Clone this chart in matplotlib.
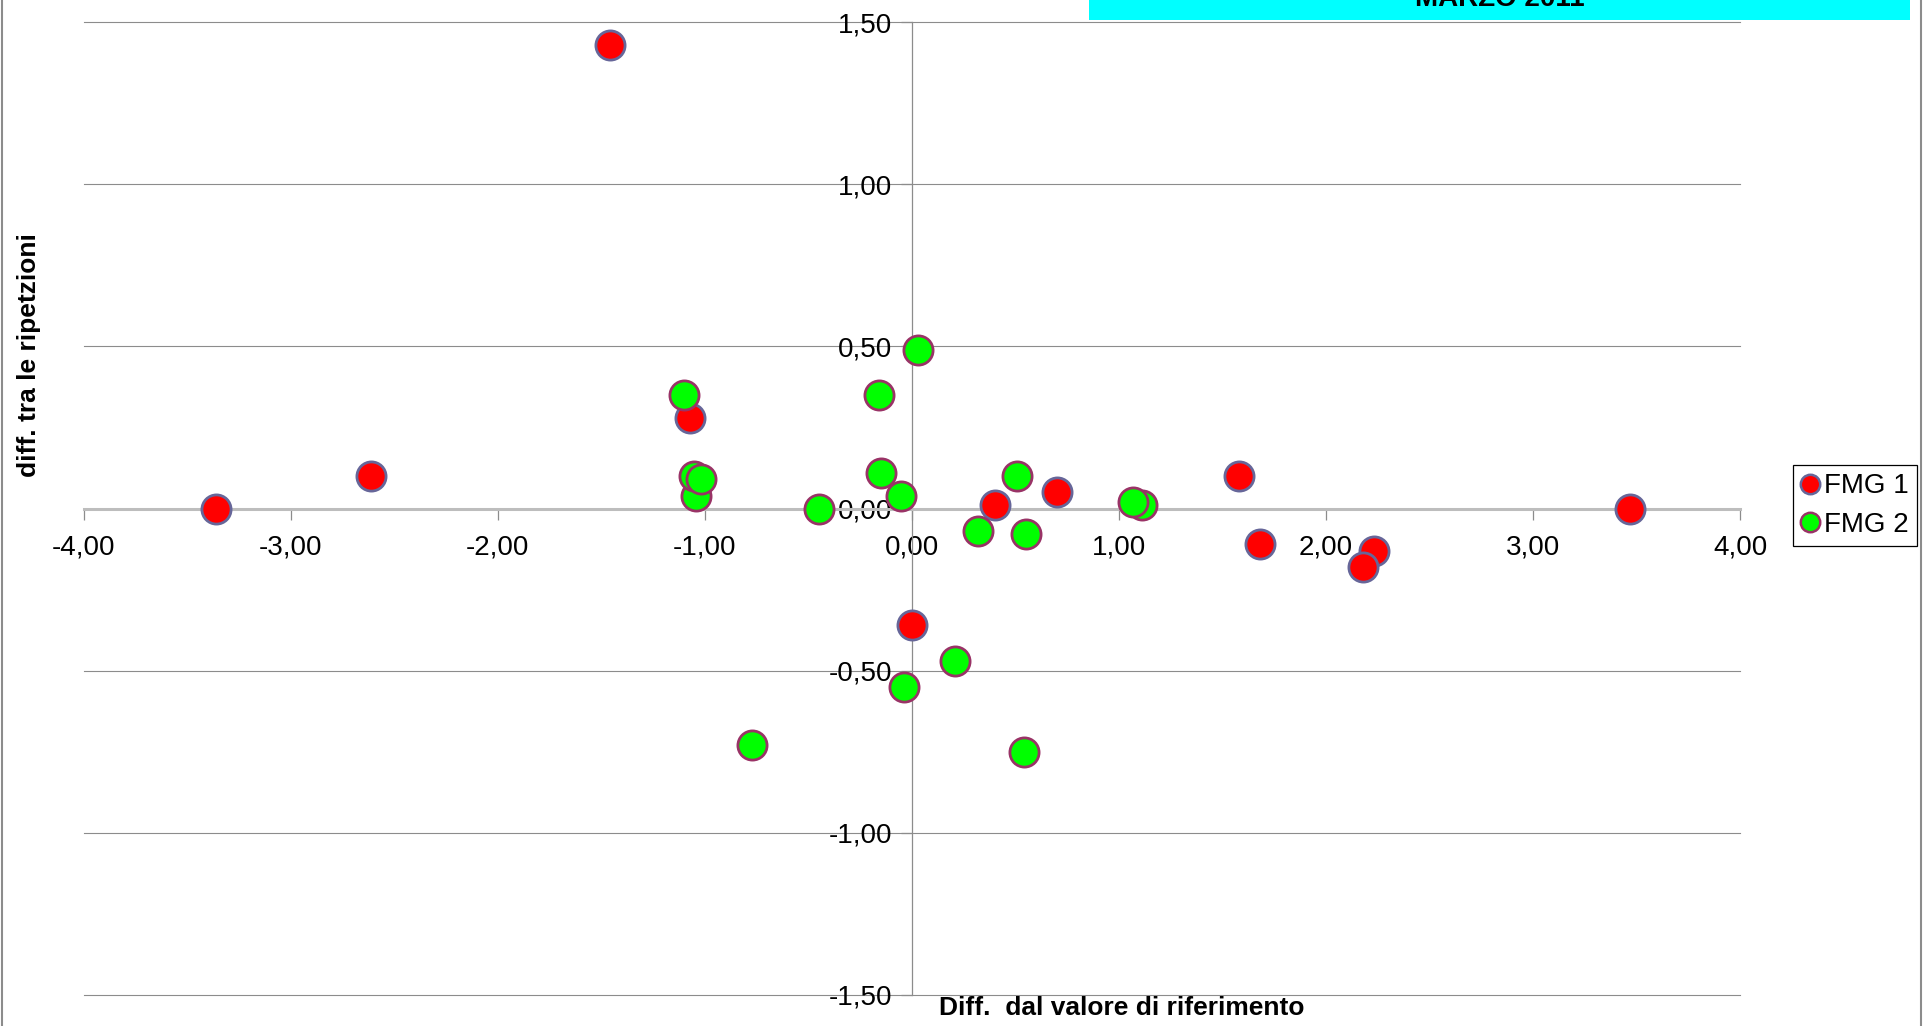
import matplotlib
matplotlib.use("Agg")
import matplotlib.pyplot as plt
from matplotlib.lines import Line2D
from matplotlib.patches import Rectangle
from matplotlib.ticker import FuncFormatter, MultipleLocator

plt.rcParams["font.family"] = ["Liberation Sans", "DejaVu Sans"]

# FMG 1 (red)
fmg1_x = [-1.46, -3.36, -2.61, -1.07, 0.00, 0.40, 0.70, 1.58, 1.68, 2.23, 2.18, 3.47]
fmg1_y = [1.43, 0.00, 0.10, 0.28, -0.36, 0.01, 0.05, 0.10, -0.11, -0.13, -0.18, 0.00]

# FMG 2 (green)
fmg2_x = [-1.10, -1.04, -1.05, -1.02, -0.45, -0.77, -0.04, 0.21, 0.54,
          0.03, -0.16, -0.15, -0.05, 0.51, 0.32, 0.55, 1.11, 1.07]
fmg2_y = [0.35, 0.04, 0.10, 0.09, 0.00, -0.73, -0.55, -0.47, -0.75,
          0.49, 0.35, 0.11, 0.04, 0.10, -0.07, -0.08, 0.01, 0.02]

series_labels = ["FMG 1", "FMG 2"]
title = "MARZO 2011"
x_label = "Diff.  dal valore di riferimento"
y_label = "diff. tra le ripetzioni"

W, H = 1928, 1026
fig = plt.figure(figsize=(W / 100, H / 100), dpi=100)
ax = fig.add_axes([83.6 / W, 1 - 994.7 / H, (1740 - 83.6) / W, (994.7 - 22.3) / H])

c1, e1 = "#ff0000", "#666699"
c2, e2 = "#00ff00", "#993366"
ms = 21
ax.scatter(fmg1_x, fmg1_y, s=ms ** 2, c=c1, edgecolors=e1, linewidths=2, zorder=3, clip_on=False)
ax.scatter(fmg2_x, fmg2_y, s=ms ** 2, c=c2, edgecolors=e2, linewidths=2, zorder=4, clip_on=False)

ax.set_xlim(-4, 4)
ax.set_ylim(-1.5, 1.5)
ax.xaxis.set_major_locator(MultipleLocator(1))
ax.yaxis.set_major_locator(MultipleLocator(0.5))
fmt = FuncFormatter(lambda v, p: f"{v:.2f}".replace(".", ","))
ax.xaxis.set_major_formatter(fmt)
ax.yaxis.set_major_formatter(fmt)

# axes cross at the origin, Excel style
ax.spines[["top", "right"]].set_visible(False)
ax.spines["left"].set_position(("data", 0))
ax.spines["bottom"].set_position(("data", 0))
ax.spines["left"].set_color("#8c8c8c")
ax.spines["left"].set_linewidth(0.9)
ax.spines["bottom"].set_color("#bdbdbd")
ax.spines["bottom"].set_linewidth(2.2)
ax.spines["left"].set_zorder(2)
ax.spines["bottom"].set_zorder(2)

ax.yaxis.grid(True, color="#8c8c8c", linewidth=0.8)
ax.set_axisbelow(True)
for gl in ax.get_ygridlines():
    gl.set_clip_on(False)
ax.tick_params(axis="x", direction="out", length=8, width=0.9, color="#8c8c8c",
               labelsize=20, pad=11)
ax.tick_params(axis="y", direction="out", length=8, width=0.9, color="#8c8c8c",
               labelsize=20, pad=6)

fig.text(29.5 / W, 1 - 355 / H, y_label, rotation=90, ha="center", va="center",
         fontsize=19, fontweight="bold")
fig.text(1121.5 / W, 1 - 1008 / H, x_label, ha="center", va="center",
         fontsize=19, fontweight="bold")

# cyan title box, mostly cut off at the top edge
fig.patches.append(Rectangle((1089 / W, 1 - 20 / H), (1910 - 1089) / W, 0.05,
                             transform=fig.transFigure, facecolor="#00ffff",
                             edgecolor="none", zorder=0))
fig.text(1499.5 / W, 1 - 6 / H, title, ha="center", va="baseline",
         fontsize=20, fontweight="bold")

# outer chart border (left and right visible)
for xp in (2, 1921):
    fig.add_artist(Line2D([xp / W, xp / W], [0, 1], transform=fig.transFigure,
                          color="#8c8c8c", linewidth=1.5))

handles = [
    Line2D([], [], marker="o", linestyle="none", markersize=14, markerfacecolor=c1,
           markeredgecolor=e1, markeredgewidth=1.8),
    Line2D([], [], marker="o", linestyle="none", markersize=14, markerfacecolor=c2,
           markeredgecolor=e2, markeredgewidth=1.8),
]
leg = fig.legend(handles, series_labels, loc="upper left",
                 bbox_to_anchor=(1793 / W, 1 - 465 / H), fontsize=20,
                 frameon=True, fancybox=False, framealpha=1, edgecolor="black",
                 borderpad=0.3, handlelength=0.6, handletextpad=0.2,
                 labelspacing=0.45, borderaxespad=0)
leg.get_frame().set_linewidth(0.9)

fig.savefig("out.png", dpi=100)
